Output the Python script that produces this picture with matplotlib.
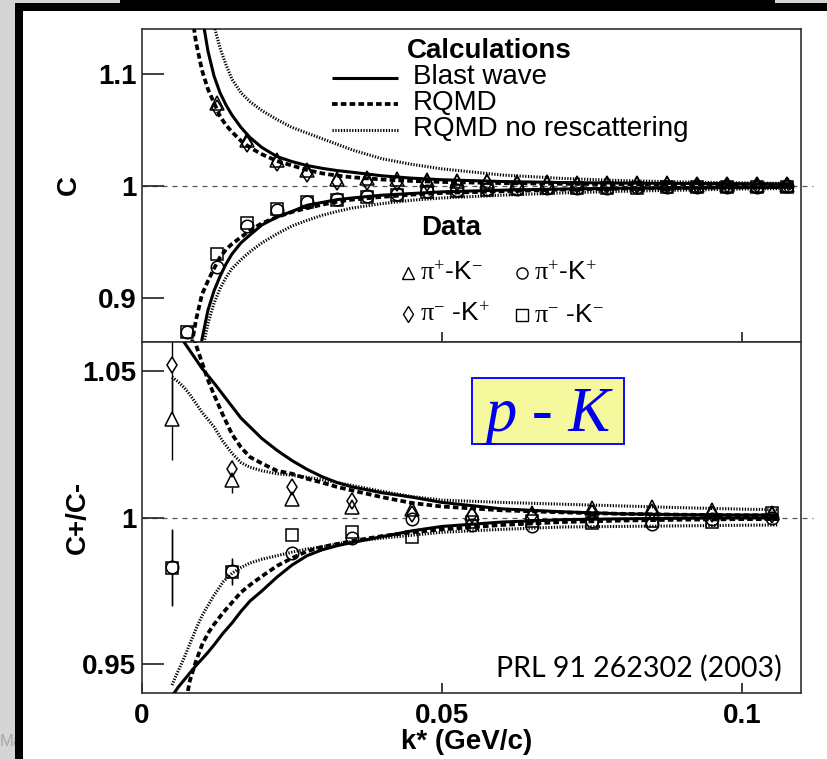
import numpy as np
import matplotlib
matplotlib.use("Agg")
import matplotlib.pyplot as plt
from matplotlib.patches import Rectangle
from matplotlib.lines import Line2D

plt.rcParams['font.family'] = ['Liberation Sans', 'DejaVu Sans']
plt.rcParams['mathtext.fontset'] = 'custom'
plt.rcParams['mathtext.rm'] = 'Liberation Serif'
plt.rcParams['mathtext.it'] = 'Liberation Serif:italic'
plt.rcParams['mathtext.bf'] = 'Liberation Serif:bold'

# ---------------- data: top panel (C) ----------------
k_top = [0.0075, 0.0125, 0.0175, 0.0225, 0.0275, 0.0325, 0.0375, 0.0425, 0.0475, 0.0525, 0.0575,
         0.0625, 0.0675, 0.0725, 0.0775, 0.0825, 0.0875, 0.0925, 0.0975, 0.1025, 0.1075]
top_pip_km = [np.nan, 1.074, 1.041, 1.023, 1.014, 1.006, 1.007, 1.006, 1.005, 1.004, 1.004,
              1.003, 1.003, 1.002, 1.002, 1.002, 1.002, 1.001, 1.001, 1.001, 1.001]
top_pim_kp = [np.nan, 1.069, 1.037, 1.020, 1.010, 1.003, 1.003, 1.002, 1.002, 1.002, 1.002,
              1.001, 1.001, 1.001, 1.001, 1.001, 1.001, 1.0005, 1.0005, 1.0005, 1.0005]
top_pip_kp = [0.869, 0.927, 0.964, 0.978, 0.985, 0.988, 0.991, 0.993, 0.995, 0.996, 0.997,
              0.997, 0.998, 0.998, 0.998, 0.999, 0.999, 0.999, 0.999, 0.999, 0.9995]
top_pim_km = [0.869, 0.939, 0.967, 0.979, 0.985, 0.987, 0.990, 0.992, 0.994, 0.995, 0.996,
              0.997, 0.998, 0.998, 0.998, 0.998, 0.999, 0.999, 0.999, 0.999, 0.999]

kc_top = [0.008, 0.009, 0.010, 0.011, 0.012, 0.013, 0.014, 0.015, 0.0165, 0.018, 0.020, 0.0225,
          0.025, 0.0275, 0.030, 0.0325, 0.035, 0.040, 0.045, 0.050, 0.060, 0.070, 0.080, 0.090,
          0.100, 0.1085]
blast_top_up = [1.25, 1.20, 1.152, 1.12, 1.098, 1.083, 1.072, 1.063, 1.052, 1.043, 1.034, 1.026,
                1.0215, 1.018, 1.0155, 1.0135, 1.012, 1.0088, 1.0067, 1.0053, 1.0037, 1.0028,
                1.0023, 1.002, 1.0017, 1.0015]
rqmd_top_up = [1.165, 1.128, 1.103, 1.086, 1.074, 1.062, 1.054, 1.048, 1.040, 1.034, 1.028, 1.022,
               1.018, 1.014, 1.011, 1.009, 1.0075, 1.0055, 1.0042, 1.0033, 1.0023, 1.0017,
               1.0013, 1.0011, 1.001, 1.0009]
nores_top_up = [1.30, 1.25, 1.20, 1.165, 1.143, 1.123, 1.108, 1.095, 1.083, 1.075, 1.067, 1.059,
                1.052, 1.047, 1.042, 1.037, 1.032, 1.024, 1.019, 1.015, 1.0095, 1.0065,
                1.0045, 1.0033, 1.0025, 1.002]
blast_top_lo = [0.78, 0.825, 0.863, 0.889, 0.906, 0.919, 0.930, 0.939, 0.949, 0.956, 0.965, 0.972,
                0.977, 0.9825, 0.985, 0.9875, 0.989, 0.9915, 0.993, 0.9945, 0.996, 0.997,
                0.9977, 0.998, 0.9984, 0.9986]
rqmd_top_lo = [0.85, 0.880, 0.903, 0.915, 0.926, 0.936, 0.943, 0.948, 0.954, 0.960, 0.9665, 0.972,
               0.9765, 0.980, 0.983, 0.9857, 0.9875, 0.990, 0.992, 0.9935, 0.995, 0.9965,
               0.9975, 0.998, 0.9985, 0.9988]
nores_top_lo = [0.72, 0.78, 0.852, 0.877, 0.895, 0.908, 0.918, 0.926, 0.934, 0.941, 0.949, 0.957,
                0.964, 0.969, 0.9735, 0.977, 0.980, 0.984, 0.987, 0.989, 0.9915, 0.9935,
                0.995, 0.996, 0.997, 0.9975]

# ---------------- data: bottom panel (C+/C-) ----------------
k_bot = [0.005, 0.015, 0.025, 0.035, 0.045, 0.055, 0.065, 0.075, 0.085, 0.095, 0.105]
bot_pip_km = [1.0336, 1.0128, 1.0065, 1.0037, 1.0030, 1.0016, 1.0016, 1.0032, 1.0038, 1.0026, 1.0015]
bot_pim_kp = [1.0521, 1.0167, 1.0103, 1.0056, 1.0012, 1.0008, 1.0005, 1.0015, 1.0020, 1.0012, 1.0010]
bot_pip_kp = [0.9830, 0.9818, 0.9878, 0.9932, 0.9997, 0.9975, 0.9972, 0.9990, 0.9980, 0.9995, 1.0000]
bot_pim_km = [0.9827, 0.9815, 0.9941, 0.9952, 0.9935, 0.9985, 0.9990, 0.9983, 0.9990, 0.9985, 1.0015]
err_pip_km = [0.014, 0.0045, 0, 0, 0, 0, 0, 0, 0, 0, 0]
err_pim_kp = [0.020, 0.003, 0, 0, 0, 0, 0, 0, 0, 0, 0]
err_pip_kp = [0.013, 0.0045, 0, 0, 0, 0, 0, 0, 0, 0, 0]
err_pim_km = [0.013, 0.0045, 0, 0, 0, 0, 0, 0, 0, 0, 0]

kc_bot = [0.005, 0.006, 0.007, 0.008, 0.009, 0.010, 0.011, 0.012, 0.0135, 0.015, 0.0165, 0.018,
          0.020, 0.0225, 0.025, 0.0275, 0.030, 0.0325, 0.035, 0.040, 0.045, 0.050, 0.060, 0.070,
          0.080, 0.090, 0.100, 0.106]
blast_bot_up = [1.070, 1.065, 1.060, 1.057, 1.054, 1.051, 1.0485, 1.046, 1.042, 1.038, 1.034, 1.031,
                1.027, 1.023, 1.0195, 1.0165, 1.014, 1.012, 1.0105, 1.0085, 1.007, 1.0052, 1.003,
                1.002, 1.0013, 1.001, 1.0009, 1.0009]
rqmd_bot_up = [1.10, 1.09, 1.08, 1.069, 1.059, 1.053, 1.047, 1.042, 1.035, 1.0285, 1.024, 1.0207,
               1.0185, 1.016, 1.015, 1.0133, 1.012, 1.0105, 1.0093, 1.007, 1.005, 1.0038, 1.0025,
               1.0018, 1.0013, 1.001, 1.0008, 1.0008]
nores_bot_up = [1.048, 1.0465, 1.0445, 1.042, 1.039, 1.036, 1.0335, 1.031, 1.026, 1.022, 1.0188,
                1.0172, 1.016, 1.015, 1.0145, 1.0138, 1.013, 1.012, 1.011, 1.009, 1.0072, 1.006,
                1.0052, 1.0046, 1.004, 1.0034, 1.0029, 1.0027]
blast_bot_lo = [0.939, 0.942, 0.9445, 0.947, 0.9495, 0.9517, 0.954, 0.9565, 0.9605, 0.964, 0.968,
                0.9715, 0.975, 0.9797, 0.9838, 0.9870, 0.989, 0.9904, 0.9915, 0.9935, 0.9955,
                0.997, 0.9985, 0.9993, 0.9996, 0.9998, 0.9999, 0.9999]
rqmd_bot_lo = [0.915, 0.924, 0.934, 0.9445, 0.951, 0.9565, 0.9605, 0.9635, 0.9675, 0.971, 0.9745,
               0.977, 0.980, 0.9835, 0.9862, 0.9885, 0.990, 0.991, 0.992, 0.9937, 0.995, 0.996,
               0.9975, 0.9985, 0.999, 0.9993, 0.9995, 0.9995]
nores_bot_lo = [0.9428, 0.9475, 0.952, 0.957, 0.962, 0.9665, 0.970, 0.9735, 0.978, 0.981, 0.983,
                0.9845, 0.9858, 0.987, 0.9882, 0.9893, 0.990, 0.991, 0.9918, 0.993, 0.994, 0.995,
                0.996, 0.9968, 0.997, 0.9972, 0.9974, 0.9975]

top_yticks = [0.9, 1.0, 1.1]
top_ylabels = ['0.9', '1', '1.1']
bot_yticks = [0.95, 1.0, 1.05]
bot_ylabels = ['0.95', '1', '1.05']
xticks = [0.0, 0.05, 0.1]
xlabels = ['0', '0.05', '0.1']

# ---------------- figure ----------------
W, H = 827, 759
fig = plt.figure(figsize=(W / 100, H / 100), dpi=100)
fig.patch.set_facecolor('#d5d5d5')


def fx(x):
    return x / W


def fy(y):
    return 1 - y / H


def rect(x0, y0, x1, y1, **kw):
    fig.patches.append(Rectangle((fx(x0), fy(y1)), (x1 - x0) / W, (y1 - y0) / H,
                                 transform=fig.transFigure, figure=fig, **kw))


fig.text(fx(0), fy(742), 'Ma', fontsize=12, color='#a8a8a8', ha='left', va='center', zorder=-20)
rect(15, 3, 830, 762, facecolor='black', edgecolor='none', zorder=-10)
rect(120, -2, 775, 5, facecolor='black', edgecolor='none', zorder=-10)
rect(23, 11, 830, 762, facecolor='white', edgecolor='none', zorder=-9)

ax1 = fig.add_axes([fx(142), fy(342), (801 - 142) / W, (342 - 29) / H])
ax2 = fig.add_axes([fx(142), fy(693), (801 - 142) / W, (693 - 342) / H])

XMAX = (801 - 142) / 6000.0
ax1.set_xlim(0, XMAX)
ax2.set_xlim(0, XMAX)
ax1.set_ylim(0.8604, 1.1399)
ax2.set_ylim(0.9401, 1.0600)

solid_kw = dict(color='black', lw=2.2, solid_capstyle='butt', zorder=3)
dash_kw = dict(color='black', lw=2.7, linestyle=(0, (1.5, 0.85)), zorder=3)
dot_kw = dict(color='black', lw=2.2, linestyle=(0, (0.42, 0.5)), zorder=3)

for ax in (ax1, ax2):
    for sp in ax.spines.values():
        sp.set_linewidth(1.2)
        sp.set_color('#303030')
    ax.axhline(1.0, xmin=0, xmax=(813 - 142) / (801 - 142), color='#555555', lw=0.9,
               linestyle=(0, (4, 4)), clip_on=False, zorder=1)

# curves
ax1.plot(kc_top, blast_top_up, **solid_kw)
ax1.plot(kc_top, blast_top_lo, **solid_kw)
ax1.plot(kc_top, rqmd_top_up, **dash_kw)
ax1.plot(kc_top, rqmd_top_lo, **dash_kw)
ax1.plot(kc_top, nores_top_up, **dot_kw)
ax1.plot(kc_top, nores_top_lo, **dot_kw)

ax2.plot(kc_bot, blast_bot_up, **solid_kw)
ax2.plot(kc_bot, blast_bot_lo, **solid_kw)
ax2.plot(kc_bot, rqmd_bot_up, **dash_kw)
ax2.plot(kc_bot, rqmd_bot_lo, **dash_kw)
ax2.plot(kc_bot, nores_bot_up, **dot_kw)
ax2.plot(kc_bot, nores_bot_lo, **dot_kw)

markers = [('^', 9.5), ('d', 8.5), ('o', 9.0), ('s', 9.0)]

top_series = [top_pip_km, top_pim_kp, top_pip_kp, top_pim_km]
for (m, ms), yv in zip(markers, top_series):
    ax1.plot(k_top, yv, linestyle='none', marker=m, ms=ms, mfc='none', mec='black', mew=1.1, zorder=4)

bot_series = [bot_pip_km, bot_pim_kp, bot_pip_kp, bot_pim_km]
bot_errs = [err_pip_km, err_pim_kp, err_pip_kp, err_pim_km]
for (m, ms), yv, ev in zip(markers, bot_series, bot_errs):
    ax2.errorbar(k_bot, yv, yerr=ev, fmt='none', ecolor='black', elinewidth=1.0, capsize=0, zorder=2)
    ax2.plot(k_bot, yv, linestyle='none', marker=m, ms=ms, mfc='white', mec='none', zorder=2.5)
for (m, ms), yv in zip(markers, bot_series):
    ax2.plot(k_bot, yv, linestyle='none', marker=m, ms=ms, mfc='none', mec='black', mew=1.1, zorder=4)

# ticks
ax1.set_yticks(top_yticks)
ax1.set_yticklabels(top_ylabels, fontweight='bold')
ax2.set_yticks(bot_yticks)
ax2.set_yticklabels(bot_ylabels, fontweight='bold')
ax1.set_xticks(xticks[1:])
ax1.set_xticklabels([])
ax2.set_xticks(xticks)
ax2.set_xticklabels(xlabels, fontweight='bold')
for ax in (ax1, ax2):
    ax.tick_params(axis='y', direction='in', length=15.5, width=1.2, pad=4, labelsize=20,
                   color='#202020')
    ax.tick_params(axis='x', direction='in', length=7, width=1.2, pad=7, labelsize=20,
                   color='#202020')

# axis titles
fig.text(fx(69), fy(185), 'C', rotation=90, ha='center', va='center', fontsize=20, fontweight='bold')
fig.text(fx(78), fy(517), 'C+/C-', rotation=90, ha='center', va='center', fontsize=20, fontweight='bold')
fig.text(fx(467), fy(742), 'k* (GeV/c)', ha='center', va='center', fontsize=20, fontweight='bold')

# calculations legend
fig.text(fx(407), fy(51), 'Calculations', ha='left', va='center', fontsize=20, fontweight='bold')
calc_labels = ['Blast wave', 'RQMD', 'RQMD no rescattering']
calc_y = [78, 104, 130]
for lab, yy, kw in zip(calc_labels, calc_y, [solid_kw, dash_kw, dot_kw]):
    kw2 = {k: v for k, v in kw.items() if k != 'zorder'}
    fig.lines.append(Line2D([fx(332), fx(398)], [fy(yy), fy(yy)], transform=fig.transFigure,
                            figure=fig, **kw2))
    fig.text(fx(413), fy(yy - 1), lab, ha='left', va='center', fontsize=20)

# data legend
fig.text(fx(421), fy(228), 'Data', ha='left', va='center', fontsize=20, fontweight='bold')
data_labels = [r'$\mathrm{\pi}^{+}$-K$^{-}$', r'$\mathrm{\pi}^{-}$ -K$^{+}$',
               r'$\mathrm{\pi}^{+}$-K$^{+}$', r'$\mathrm{\pi}^{-}$ -K$^{-}$']
data_pos = [(408, 273), (408, 314), (522, 273), (522, 315)]
leg_markers = [('^', 8.5), ('d', 8.0), ('o', 8.0), ('s', 8.0)]
for (m, ms), lab, (px, py) in zip(leg_markers, data_labels, data_pos):
    fig.lines.append(Line2D([fx(px)], [fy(py)], transform=fig.transFigure, figure=fig,
                            linestyle='none', marker=m, ms=ms, mfc='none', mec='black', mew=1.0))
    fig.text(fx(px + 12), fy(py), lab, ha='left', va='center', fontsize=19)

# p - K box
rect(472, 378, 624, 444, facecolor='#f6f89e', edgecolor='#0a0aff', lw=1.4, zorder=5)
fig.text(fx(548), fy(431), 'p - K', ha='center', va='baseline', fontsize=45, color='#0000ee',
         family='Liberation Serif', style='italic', zorder=6)

# reference
fig.text(fx(782), fy(677), 'PRL 91 262302 (2003)', ha='right', va='baseline', fontsize=20.5,
         family='Lato', zorder=6)

fig.savefig('out.png', dpi=100)
